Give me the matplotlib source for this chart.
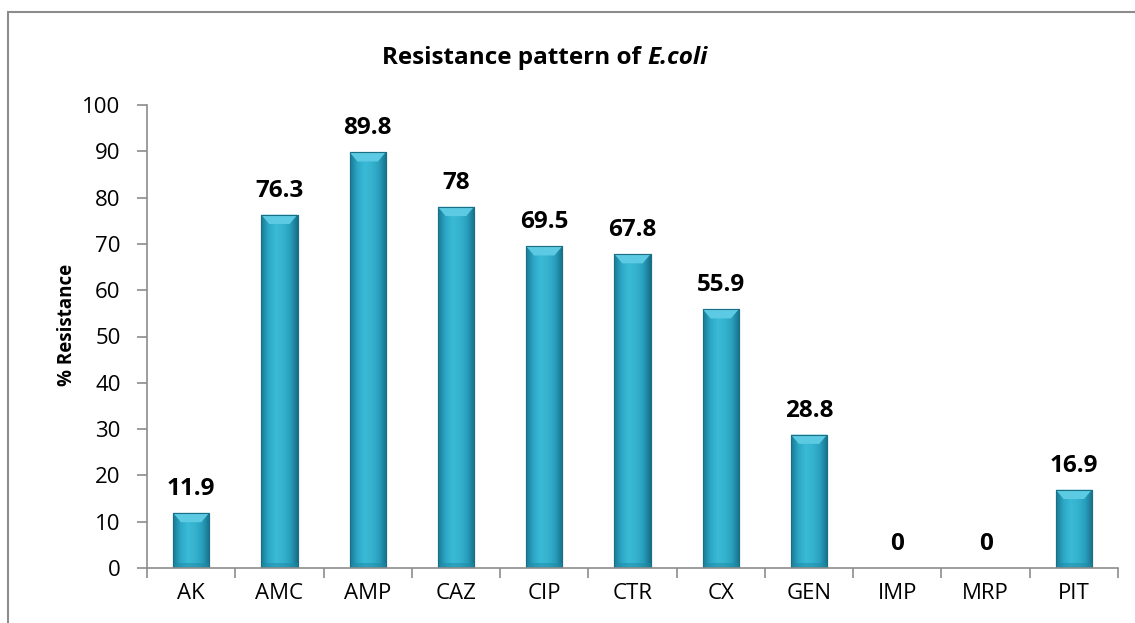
import numpy as np
import matplotlib.pyplot as plt
from matplotlib.patches import Polygon, Rectangle
from matplotlib.colors import LinearSegmentedColormap

# data
drugs = ["AK", "AMC", "AMP", "CAZ", "CIP", "CTR", "CX", "GEN", "IMP", "MRP", "PIT"]
resistance = [11.9, 76.3, 89.8, 78, 69.5, 67.8, 55.9, 28.8, 0, 0, 16.9]
value_labels = ["11.9", "76.3", "89.8", "78", "69.5", "67.8", "55.9", "28.8", "0", "0", "16.9"]

plt.rcParams["font.family"] = ["Open Sans", "DejaVu Sans"]

W, H = 1135, 623
fig = plt.figure(figsize=(W / 100, H / 100), dpi=100)
ax = fig.add_axes([147 / W, 1 - 568 / H, (1118 - 147) / W, (568 - 105) / H])

# outer chart border (only top/left visible in the source)
fig.patches.append(Rectangle((8 / W, -0.1), 1.2, 1 - 12 / H + 0.1,
                             transform=fig.transFigure, fill=False,
                             edgecolor="#8c8c8c", linewidth=1.5))

x = np.arange(len(drugs))
bw = 0.41
side_cmap = LinearSegmentedColormap.from_list(
    "cyl", ["#1a7a94", "#2ca8c6", "#3abad6", "#35b2ce", "#289fbd", "#186f88"])
grad = np.linspace(0, 1, 64).reshape(1, -1)

for xi, v in zip(x, resistance):
    if v <= 0:
        continue
    left = xi - bw / 2
    bar = ax.bar(xi, v, bw, color="#2ea6c3", edgecolor="#1a6f86",
                 linewidth=0.8, zorder=2)[0]
    im = ax.imshow(grad, cmap=side_cmap, aspect="auto",
                   extent=(left, left + bw, 0, v), zorder=2.1)
    im.set_clip_path(bar)
    # top bevel
    bev_h = min(2.0, v * 0.3)
    bev_w = 0.09
    ax.add_patch(Polygon([(left, v), (left + bw, v),
                          (left + bw - bev_w, v - bev_h), (left + bev_w, v - bev_h)],
                         closed=True, facecolor="#5ccae2", edgecolor="none", zorder=2.2))
    ax.add_patch(Rectangle((left, 0), bw, min(1.0, v * 0.1), facecolor="#1f8aa5",
                           edgecolor="none", alpha=0.5, zorder=2.2))
    ax.add_patch(Rectangle((left, 0), bw, v, fill=False, edgecolor="#1a6f86",
                           linewidth=0.8, zorder=2.3))

for xi, v, lab in zip(x, resistance, value_labels):
    ax.annotate(lab, (xi, v), xytext=(0, 13), textcoords="offset points",
                ha="center", va="baseline", fontsize=17.5, fontweight="bold", zorder=3)

ax.set_xlim(-0.5, len(drugs) - 0.5)
ax.set_ylim(0, 100)
ax.set_yticks(np.arange(0, 101, 10))
ax.set_xticks(x)
ax.set_xticklabels(drugs)
ax.set_xticks(np.arange(-0.5, len(drugs)), minor=True)
ax.tick_params(axis="x", which="major", length=0, pad=11, labelsize=16)
ax.tick_params(axis="x", which="minor", length=7, color="#8c8c8c", width=1.2)
ax.tick_params(axis="y", length=7, color="#8c8c8c", width=1.2, pad=12, labelsize=16)

for s in ["top", "right"]:
    ax.spines[s].set_visible(False)
for s in ["left", "bottom"]:
    ax.spines[s].set_color("#8c8c8c")
    ax.spines[s].set_linewidth(1.2)

ax.set_ylabel("% Resistance", fontsize=13.5, fontweight="bold")
ax.yaxis.set_label_coords(-0.072, 0.526)

# two-part title: plain bold + italic species name, centered as one line
ty = 1 - 58 / H
t1 = fig.text(0, ty, "Resistance pattern of ", fontsize=17.5,
              fontweight="bold", ha="left", va="center")
t2 = fig.text(0, ty, "E.coli", fontsize=17.5, fontweight="bold",
              style="italic", ha="left", va="center")
fig.canvas.draw()
r = fig.canvas.get_renderer()
w1 = t1.get_window_extent(r).width
w2 = t2.get_window_extent(r).width
x0 = 545 - (w1 + w2) / 2
t1.set_x(x0 / W)
t2.set_x((x0 + w1) / W)

fig.savefig("out.png", dpi=100)
